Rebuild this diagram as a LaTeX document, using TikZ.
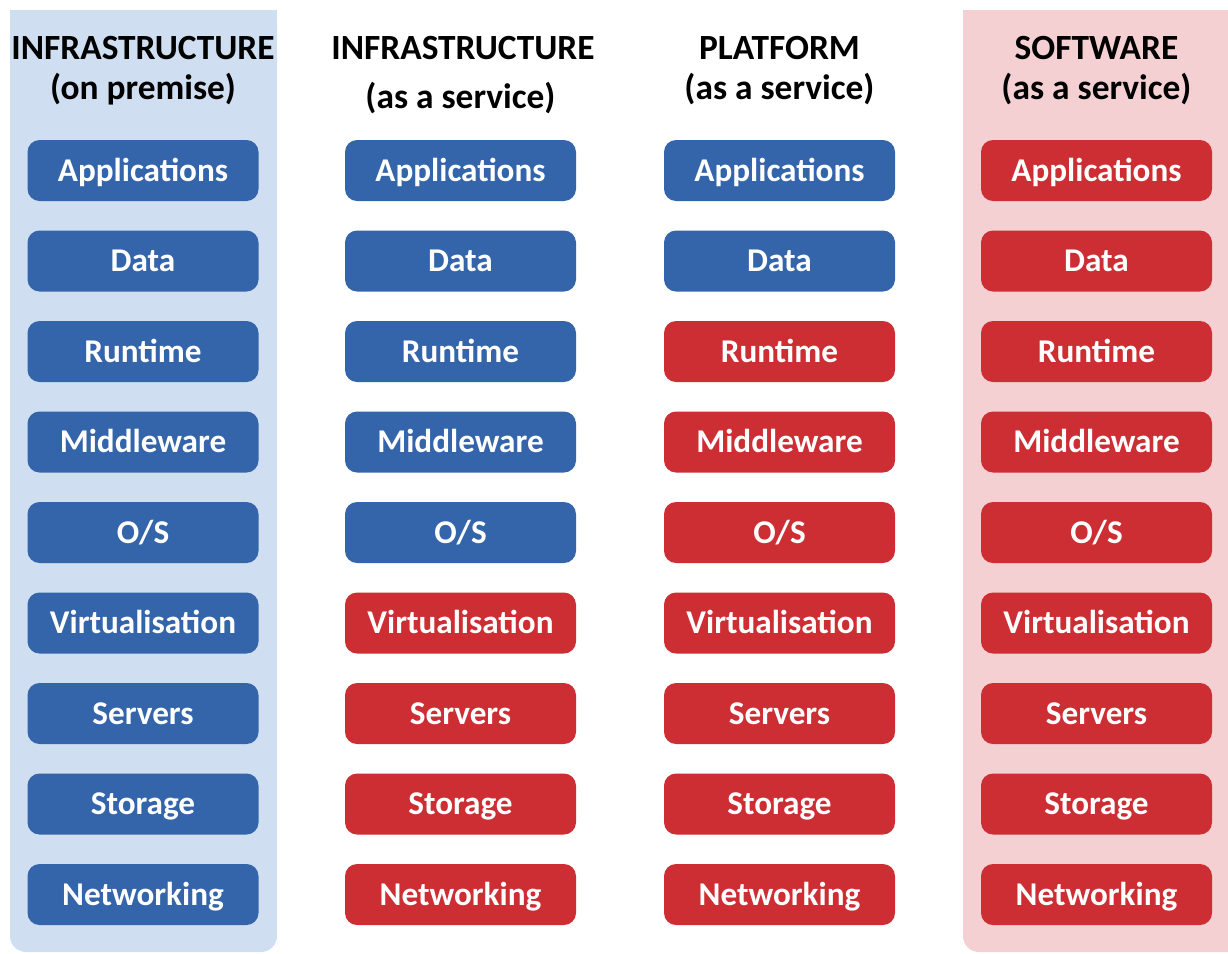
\documentclass[tikz,border=0pt]{standalone}
\usepackage{fontspec}
\setmainfont{Carlito}
\definecolor{layerblue}{RGB}{52,101,170}
\definecolor{layerred}{RGB}{204,46,51}
\definecolor{panelblue}{RGB}{207,222,240}
\definecolor{panelpink}{RGB}{244,208,211}
\begin{document}
\begin{tikzpicture}[x=0.5pt,y=-0.5pt,
  layer/.style={rounded corners=6pt, minimum width=115.5pt, minimum height=30.5pt,
    inner sep=0pt, text=white, text height=11pt, text depth=0.5pt,
    font=\bfseries\fontsize{16.6}{19}\selectfont},
  own/.style={layer, fill=layerblue},
  hosted/.style={layer, fill=layerred},
  head/.style={anchor=base, inner sep=0pt, text depth=0pt,
    font=\bfseries\fontsize{17.7}{21}\selectfont},
  headtop/.style={head, text height=11pt},
  headsub/.style={head, text height=8pt}]
\useasboundingbox (0,0) rectangle (1228,954);
% background panels (square top, rounded bottom)
\fill[panelblue, rounded corners=8pt] (10,10) rectangle (277,952);
\fill[panelblue] (10,10) rectangle (277,40);
\fill[panelpink, rounded corners=8pt] (963,10) rectangle (1250,952);
\fill[panelpink] (963,10) rectangle (1250,40);
% column headings
\node[headtop] (h1a) at (143,59) {INFRASTRUCTURE};
\node[headsub] (h1b) at (143,99) {(on premise)};
\node[headtop] (h2a) at (463,59) {INFRASTRUCTURE};
\node[headsub] (h2b) at (460.5,108) {(as a service)};
\node[headtop] (h3a) at (779.5,59) {PLATFORM};
\node[headsub] (h3b) at (779.5,99) {(as a service)};
\node[headtop] (h4a) at (1096.5,59) {SOFTWARE};
\node[headsub] (h4b) at (1096.5,99) {(as a service)};
% layer stacks
\foreach \lbl [count=\r] in {Applications,Data,Runtime,Middleware,O/S,Virtualisation,Servers,Storage,Networking}{
  \pgfmathsetmacro{\yy}{170.5+90.5*(\r-1)}
  \node[own] (a\r) at (143,\yy) {\lbl};
  \ifnum\r<6 \node[own] (b\r) at (460.5,\yy) {\lbl};\else \node[hosted] (b\r) at (460.5,\yy) {\lbl};\fi
  \ifnum\r<3 \node[own] (c\r) at (779.5,\yy) {\lbl};\else \node[hosted] (c\r) at (779.5,\yy) {\lbl};\fi
  \node[hosted] (d\r) at (1096.5,\yy) {\lbl};
}
\end{tikzpicture}
\end{document}
